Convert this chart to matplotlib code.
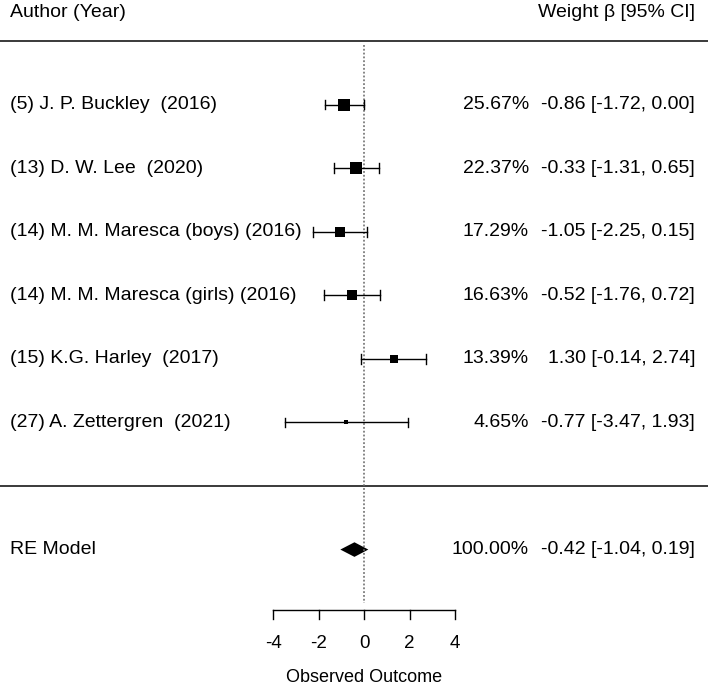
import numpy as np
import matplotlib
matplotlib.use("Agg")
import matplotlib.pyplot as plt
from matplotlib.patches import Polygon

# ---- data ----
labels = ["(5) J. P. Buckley  (2016)", "(13) D. W. Lee  (2020)",
          "(14) M. M. Maresca (boys) (2016)", "(14) M. M. Maresca (girls) (2016)",
          "(15) K.G. Harley  (2017)", "(27) A. Zettergren  (2021)"]
est = [-0.86, -0.33, -1.05, -0.52, 1.30, -0.77]
lower = [-1.72, -1.31, -2.25, -1.76, -0.14, -3.47]
upper = [0.00, 0.65, 0.15, 0.72, 2.74, 1.93]
weights = [25.67, 22.37, 17.29, 16.63, 13.39, 4.65]
re_label = "RE Model"
re_est, re_lo, re_hi, re_w = -0.42, -1.04, 0.19, 100.00
xticks = [-4, -2, 0, 2, 4]

FS = 14
FS_AX = 13
plt.rcParams['font.family'] = ['Liberation Sans', 'DejaVu Sans']

W, H, DPI = 708, 685, 100
fig = plt.figure(figsize=(W / DPI, H / DPI), dpi=DPI)
ax = fig.add_axes([0, 0, 1, 1])
ax.set_axis_off()

# pixel -> data mapping
px_per_x = 22.75
x0_px = 364
px_per_y = 63.57
ax.set_xlim(-x0_px / px_per_x, (W - x0_px) / px_per_x)
ax.set_ylim(-(H - 486) / px_per_y, 7 + 41 / px_per_y)

k = len(labels)
rows = np.arange(k, 0, -1)
XL = 10 / W      # left text column
XW = 529 / W     # weight column (right aligned)
XR = 695 / W     # CI column (right aligned)

# separator lines
ax.axhline(7, color="#3a3a3a", lw=1.4)
ax.axhline(0, color="#3a3a3a", lw=1.4)

# reference line
ax.plot([0, 0], [7 - 4 / px_per_y, 7 - (603 - 41) / px_per_y],
        color="#666666", lw=1.1, linestyle=(0, (1.2, 1.3)))

# study CIs and squares
cap = 4.8 / px_per_y
sw = np.sqrt(weights)
sides = 4 + (sw - sw.min()) / (sw.max() - sw.min()) * 8.7
trans_txt = ax.get_yaxis_transform()
for y, lab, e, lo, hi, w, s in zip(rows, labels, est, lower, upper, weights, sides):
    ax.plot([lo, hi], [y, y], color="black", lw=1.0)
    ax.plot([lo, lo], [y - cap, y + cap], color="black", lw=1.0)
    ax.plot([hi, hi], [y - cap, y + cap], color="black", lw=1.0)
    ax.plot([e], [y], marker="s", markersize=s * 72 / DPI, color="black",
            markeredgewidth=0)
    ax.text(XL, y, lab, transform=trans_txt, ha="left", va="center", fontsize=FS)
    ax.text(XW, y, f"{w:.2f}%", transform=trans_txt, ha="right", va="center",
            fontsize=FS)
    ax.text(XR, y, f"{e:.2f} [{lo:.2f}, {hi:.2f}]", transform=trans_txt,
            ha="right", va="center", fontsize=FS)

# RE model diamond
yre = -1
dh = 7.3 / px_per_y
ax.add_patch(Polygon([[re_lo, yre], [re_est, yre + dh], [re_hi, yre],
                      [re_est, yre - dh]], closed=True, color="black", lw=0))
ax.text(XL, yre, re_label, transform=trans_txt, ha="left", va="center",
        fontsize=FS)
ax.text(XW, yre, f"{re_w:.2f}%", transform=trans_txt, ha="right",
        va="center", fontsize=FS)
ax.text(XR, yre, f"{re_est:.2f} [{re_lo:.2f}, {re_hi:.2f}]",
        transform=trans_txt, ha="right", va="center", fontsize=FS)

# headers
yh = 7 + (41 - 12) / px_per_y
ax.text(XL, yh, "Author (Year)", transform=trans_txt, ha="left",
        va="center", fontsize=FS)
ax.text(XR, yh, "Weight β [95% CI]", transform=trans_txt, ha="right",
        va="center", fontsize=FS)

# x axis
ya = 7 - (610 - 41) / px_per_y
tl = 9 / px_per_y
ax.plot([xticks[0], xticks[-1]], [ya, ya], color="black", lw=1.0)
for t in xticks:
    ax.plot([t, t], [ya, ya - tl], color="black", lw=1.0)
    ax.text(t, 7 - (643 - 41) / px_per_y, f"{t:d}",
            ha="center", va="center", fontsize=FS_AX + 0.5)
ax.text(0, 7 - (677 - 41) / px_per_y, "Observed Outcome", ha="center",
        va="center", fontsize=FS_AX)

fig.savefig("out.png", dpi=DPI)
